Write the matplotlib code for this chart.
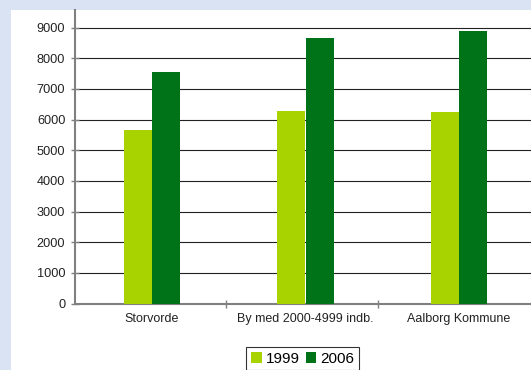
import matplotlib
matplotlib.use("Agg")
import matplotlib.pyplot as plt
from matplotlib.patches import Rectangle
import numpy as np

plt.rcParams['font.family'] = ['Liberation Sans', 'DejaVu Sans']

categories = ["Storvorde", "By med 2000-4999 indb.", "Aalborg Kommune"]
series_names = ["1999", "2006"]
values_1999 = [5650, 6280, 6240]
values_2006 = [7560, 8660, 8890]
yticks = [0, 1000, 2000, 3000, 4000, 5000, 6000, 7000, 8000, 9000]

W, H = 531, 370
fig = plt.figure(figsize=(W/100, H/100), dpi=100)
fig.patch.set_facecolor('#d9e3f3')
fig.patches.append(Rectangle((11/W, 0), 1 - 11/W, 1 - 10/H, transform=fig.transFigure,
                             facecolor='white', edgecolor='none', zorder=-10))

left, right = 75/W, 1.0
bottom, top = 1 - 303.5/H, 1 - 10/H
ax = fig.add_axes([left, bottom, right - left, top - bottom])
ax.set_facecolor('none')

x = np.arange(len(categories))
bw = 0.185
ax.bar(x - bw/2, values_1999, bw, color='#a9d300', label=series_names[0], zorder=3)
ax.bar(x + bw/2, values_2006, bw, color='#007218', label=series_names[1], zorder=3)

ymax = 9000 * (303.5 - 10) / (303.5 - 27.7)
ax.set_ylim(0, ymax)
ppu = 153.5
ax.set_xlim((75 - 152) / ppu, (531 - 152) / ppu)
ax.set_yticks(yticks)
ax.set_yticklabels([str(t) for t in yticks], fontsize=9.2, color='#222222')
for t in yticks[1:]:
    ax.axhline(t, color='#222222', lw=0.8, zorder=1)

ax.set_xticks(x)
ax.set_xticklabels(categories, fontsize=9, color='#222222')
ax.tick_params(axis='x', length=0, pad=7)
ax.set_xticks([0.48, 1.47], minor=True)
ax.tick_params(axis='x', which='minor', length=6, direction='inout', color='#808080', width=1)
ax.tick_params(axis='y', length=6, direction='inout', color='#808080', width=1, pad=4)

for s in ['top', 'right']:
    ax.spines[s].set_visible(False)
ax.spines['left'].set_color('#808080')
ax.spines['left'].set_linewidth(1.5)
ax.spines['bottom'].set_color('#808080')
ax.spines['bottom'].set_linewidth(1.5)

leg = fig.legend(loc='upper center', bbox_to_anchor=(302.5/W, 1 - 347/H), ncol=2,
                 fontsize=11, frameon=True, fancybox=False, edgecolor='black',
                 handlelength=0.7, handleheight=0.7, handletextpad=0.25,
                 columnspacing=0.4, borderpad=0.3, borderaxespad=0)
leg.get_frame().set_linewidth(0.8)

fig.savefig("out.png", dpi=100)
